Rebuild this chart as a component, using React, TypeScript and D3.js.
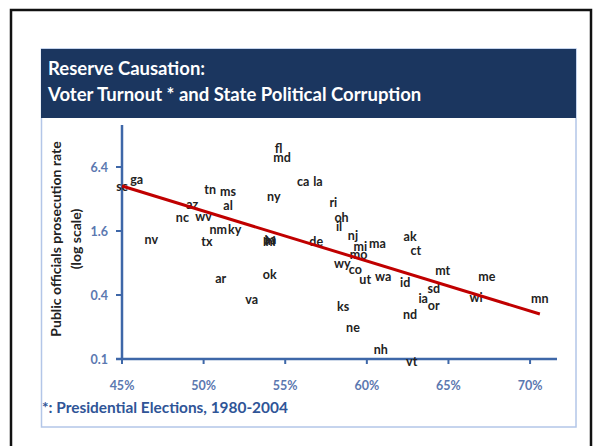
import React from 'react';
import * as d3 from 'd3';

const states = ['sc','ga','tn','ms','az','al','nc','wv','nm','ky','nv','tx','fl','md','ca','la','ny','ri','oh','il','nj','mi','ma','mo','ak','ct','wy','de','pa','hi','in','ok','ar','va','co','ut','wa','id','mt','me','wi','mn','sd','ia','or','nd','ks','ne','nh','vt'];
const turnout = [45.0,45.9,50.4,51.5,49.3,51.5,48.7,50.0,50.9,51.9,46.8,50.2,54.6,54.8,56.1,57.0,54.3,57.95,58.45,58.3,59.15,59.6,60.65,59.5,62.65,63.0,58.5,56.9,54.05,54.1,54.05,54.05,51.05,52.95,59.3,59.9,61.0,62.35,64.65,67.35,66.7,70.6,64.1,63.45,64.1,62.65,58.55,59.15,60.85,62.75];
const rate = [4.24,4.9,3.89,3.75,2.85,2.81,2.15,2.18,1.66,1.66,1.32,1.27,9.6,7.9,4.65,4.72,3.41,2.95,2.15,1.78,1.44,1.14,1.21,0.97,1.41,1.04,0.79,1.27,1.32,1.27,1.29,0.62,0.57,0.36,0.69,0.56,0.6,0.53,0.68,0.6,0.38,0.37,0.46,0.37,0.32,0.26,0.31,0.2,0.124,0.094];
const trendTurnout = [45, 70.6];
const trendRate = [4.24, 0.265];
const xTicks = [45, 50, 55, 60, 65, 70];
const yTicks = [0.1, 0.4, 1.6, 6.4];
const titleLines = ['Reserve Causation:', 'Voter Turnout * and State Political Corruption'];
const footnote = '*: Presidential Elections, 1980-2004';
const yLabelLines = ['Public officials prosecution rate', '(log scale)'];

const FONT = 'Lato, "Open Sans", sans-serif';

export default function App() {
  const x = d3.scaleLinear().domain([45, 71.65]).range([122, 557]);
  const y = d3.scaleLog().domain([0.1, 15.9]).range([359, 125]);
  const axisColor = '#3e67a8';
  const tickColor = '#5b78b0';
  const line = d3.line<number>()
    .x((d, i) => x(trendTurnout[i]))
    .y((d) => y(d));

  return (
    <svg width={600} height={446} style={{ position: 'absolute', left: 0, top: 0, background: '#fff' }} fontFamily={FONT}>
      <rect x={0} y={0} width={600} height={446} fill="#fff" />
      <rect x={11} y={10} width={580} height={450} fill="#fff" stroke="#111" strokeWidth={2.5} />
      {/* panel */}
      <rect x={41.5} y={49} width={534.5} height={378} fill="#fff" stroke="#b3c6e8" strokeWidth={1.5} />
      <rect x={41} y={49} width={535} height={69} fill="#1b365f" />
      {titleLines.map((t, i) => (
        <text key={i} x={48} y={75 + i * 26} fill="#fff" fontSize={18.5} fontWeight={700}>{t}</text>
      ))}
      {/* y axis label */}
      {yLabelLines.map((t, i) => (
        <text key={i} transform={`translate(${55 + i * 20},239) rotate(-90)`} textAnchor="middle" dominantBaseline="central"
          fontSize={14} fontWeight={700} fill="#222">{t}</text>
      ))}
      {/* axes */}
      <line x1={x(45)} x2={x(45)} y1={125} y2={y(0.1)} stroke={axisColor} strokeWidth={2.5} />
      <line x1={x(45) - 6} x2={557} y1={y(0.1)} y2={y(0.1)} stroke={axisColor} strokeWidth={2.5} />
      {yTicks.map((t) => (
        <g key={t}>
          <line x1={x(45) - 6} x2={x(45)} y1={y(t)} y2={y(t)} stroke={axisColor} strokeWidth={2} />
          <text x={108} y={y(t)} textAnchor="end" dominantBaseline="central" fontSize={12.5} fontWeight={700} fill={tickColor}>{t}</text>
        </g>
      ))}
      {xTicks.map((t) => (
        <g key={t}>
          <line x1={x(t)} x2={x(t)} y1={y(0.1)} y2={y(0.1) + 5} stroke={axisColor} strokeWidth={2} />
          <text x={x(t)} y={385} textAnchor="middle" dominantBaseline="central" fontSize={12.5} fontWeight={700} fill={tickColor}>{t}%</text>
        </g>
      ))}
      {/* state labels */}
      {states.map((s, i) => (
        <text key={s} x={x(turnout[i])} y={y(rate[i])} textAnchor="middle" dominantBaseline="central"
          fontSize={12.5} fontWeight={700} fill="#222">{s}</text>
      ))}
      {/* trend */}
      <path d={line(trendRate) || ''} stroke="#c00000" strokeWidth={3} fill="none" />
      <text x={42} y={407} dominantBaseline="central" fontSize={15.4} fontWeight={700} fill="#2f5597">{footnote}</text>
    </svg>
  );
}
